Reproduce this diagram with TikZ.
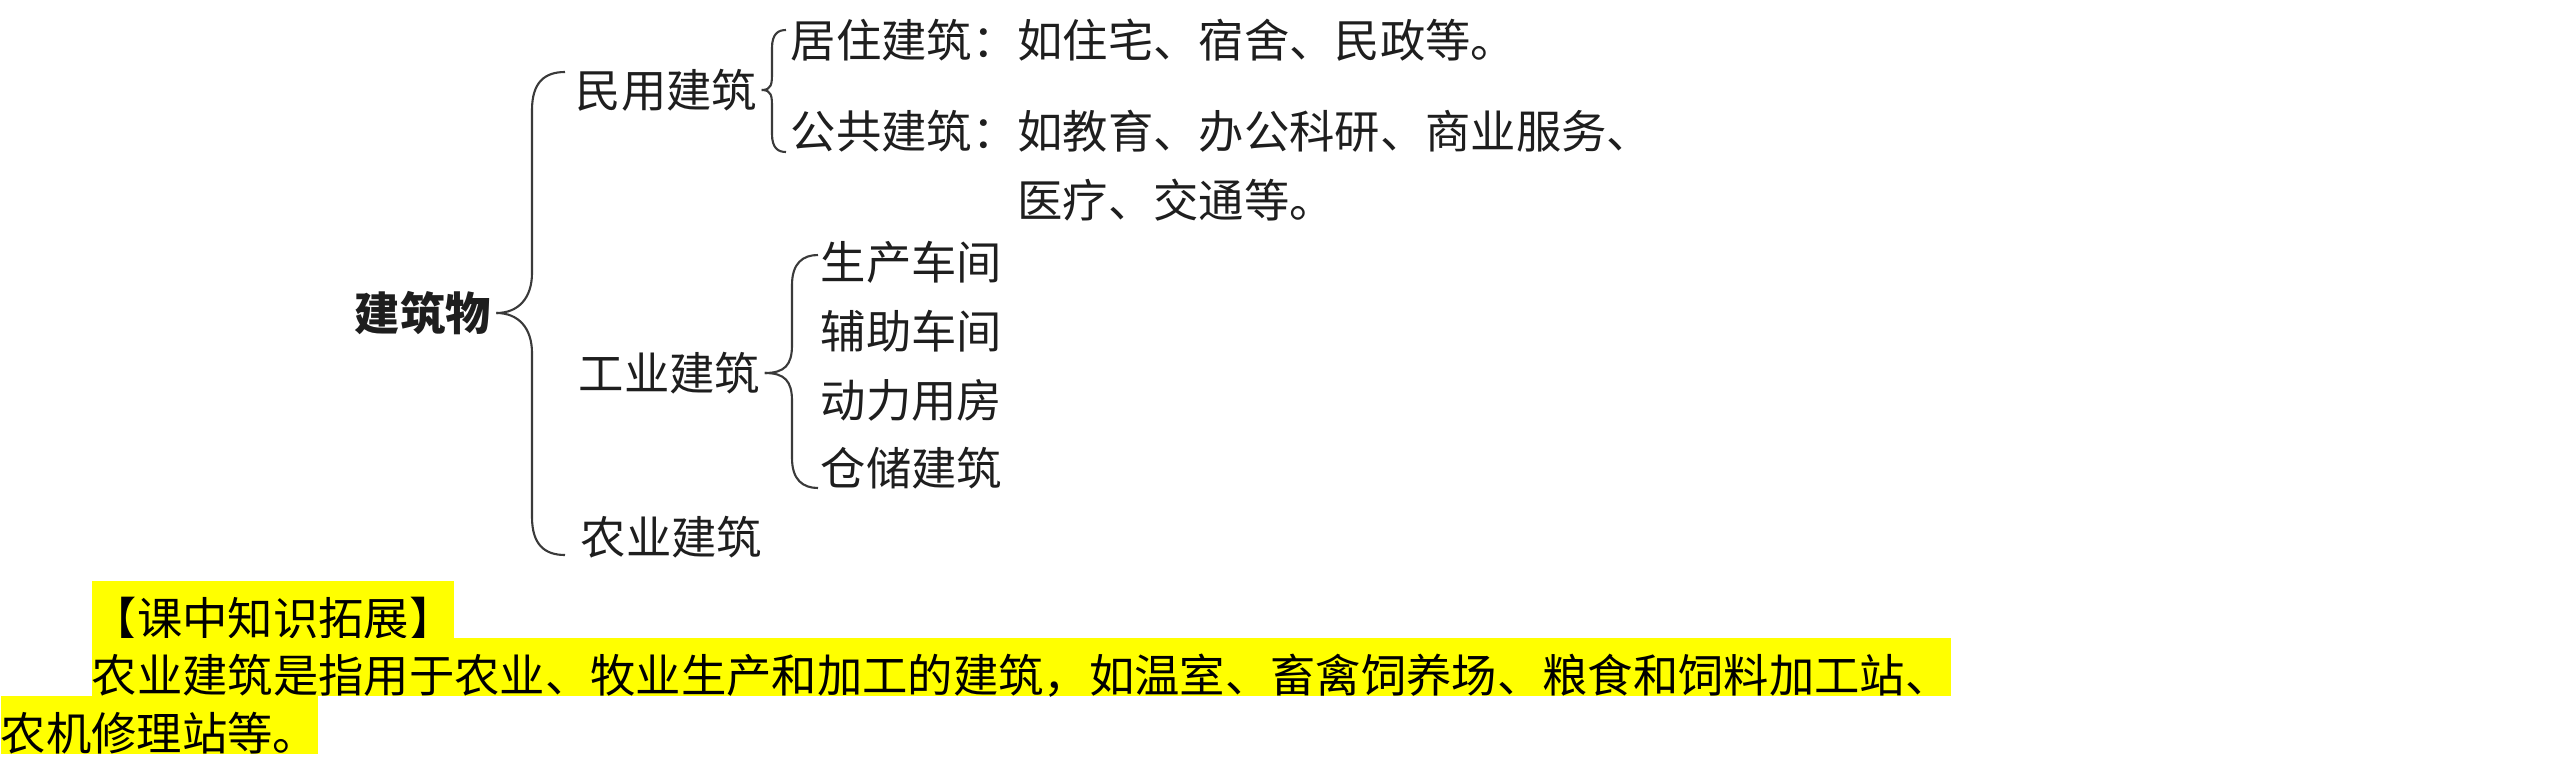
\documentclass[tikz,border=0pt]{standalone}
\usepackage{fontspec}
\setmainfont{Noto Sans CJK SC}
\usetikzlibrary{positioning}
\definecolor{brk}{HTML}{3A3A3A}
\definecolor{txt}{HTML}{1E1E1E}
\definecolor{hl}{HTML}{FFFF00}
\tikzset{
  item/.style={anchor=west, inner sep=0pt, text=txt, font=\fontsize{12.9pt}{19.6pt}\selectfont},
  brace/.style={draw=brk, line width=0.6pt},
  hlline/.style={anchor=south west, inner sep=0pt, fill=hl, text=black,
    text height=15.4pt, text depth=1.1pt, font=\fontsize{12.9pt}{16pt}\selectfont}
}
\begin{document}
\begin{tikzpicture}
\useasboundingbox (0,0) rectangle (25.6,-7.65);

%root
\node[item, font=\fontsize{12.9pt}{16pt}\selectfont\bfseries] (root) at (3.54,-3.13) {建筑物};

%main branches
\node[item] (minyong) at (5.75,-0.90) {民用建筑};
\node[item] (gongye) at (5.78,-3.73) {工业建筑};
\node[item] (nongye) at (5.80,-5.37) {农业建筑};

%civil buildings
\node[item] (juzhu) at (7.90,-0.40) {居住建筑：如住宅、宿舍、民政等。};
\node[item, align=left] (gonggong) at (7.90,-1.655) {公共建筑：如教育、办公科研、商业服务、\\\hphantom{公共建筑：}医疗、交通等。};

%industrial buildings
\node[item] (shengchan) at (8.20,-2.62) {生产车间};
\node[item] (fuzhu) at (8.20,-3.31) {辅助车间};
\node[item] (dongli) at (8.20,-4.00) {动力用房};
\node[item] (cangchu) at (8.20,-4.68) {仓储建筑};

%ends of the braces
\coordinate (mtop) at (5.65,-0.72);
\coordinate (mbot) at (5.65,-5.55);
\coordinate (jtop) at (7.86,-0.30);
\coordinate (jbot) at (7.86,-1.52);
\coordinate (gtop) at (8.18,-2.55);
\coordinate (gbot) at (8.18,-4.88);

%main brace
\draw[brace] ([xshift=0.05cm]root.east) .. controls +(0.22,0) and +(0,-0.25) .. (5.32,-2.73) -- (5.32,-1.10) .. controls +(0,0.28) and +(-0.2,0) .. (mtop);
\draw[brace] ([xshift=0.05cm]root.east) .. controls +(0.22,0) and +(0,0.25) .. (5.32,-3.53) -- (5.32,-5.17) .. controls +(0,-0.28) and +(-0.2,0) .. (mbot);

%brace of civil buildings
\draw[brace] ([xshift=0.04cm]minyong.east) .. controls +(0.1,0) and +(0,-0.12) .. (7.72,-0.72) -- (7.72,-0.48) .. controls +(0,0.14) and +(-0.08,0) .. (jtop);
\draw[brace] ([xshift=0.04cm]minyong.east) .. controls +(0.1,0) and +(0,0.12) .. (7.72,-1.08) -- (7.72,-1.34) .. controls +(0,-0.14) and +(-0.08,0) .. (jbot);

%brace of industrial buildings
\draw[brace] ([xshift=0.04cm]gongye.east) .. controls +(0.2,0) and +(0,-0.2) .. (7.92,-3.45) -- (7.92,-2.85) .. controls +(0,0.22) and +(-0.15,0) .. (gtop);
\draw[brace] ([xshift=0.04cm]gongye.east) .. controls +(0.2,0) and +(0,0.2) .. (7.92,-4.01) -- (7.92,-4.58) .. controls +(0,-0.22) and +(-0.15,0) .. (gbot);

%highlighted notes
\node[hlline] (ketang) at (0.91,-6.40) {【课中知识拓展】};
\node[hlline] (nongyea) at (0.91,-6.97) {农业建筑是指用于农业、牧业生产和加工的建筑，如温室、畜禽饲养场、粮食和饲料加工站、};
\node[hlline] (nongyeb) at (0,-7.55) {农机修理站等。};

\end{tikzpicture}
\end{document}
